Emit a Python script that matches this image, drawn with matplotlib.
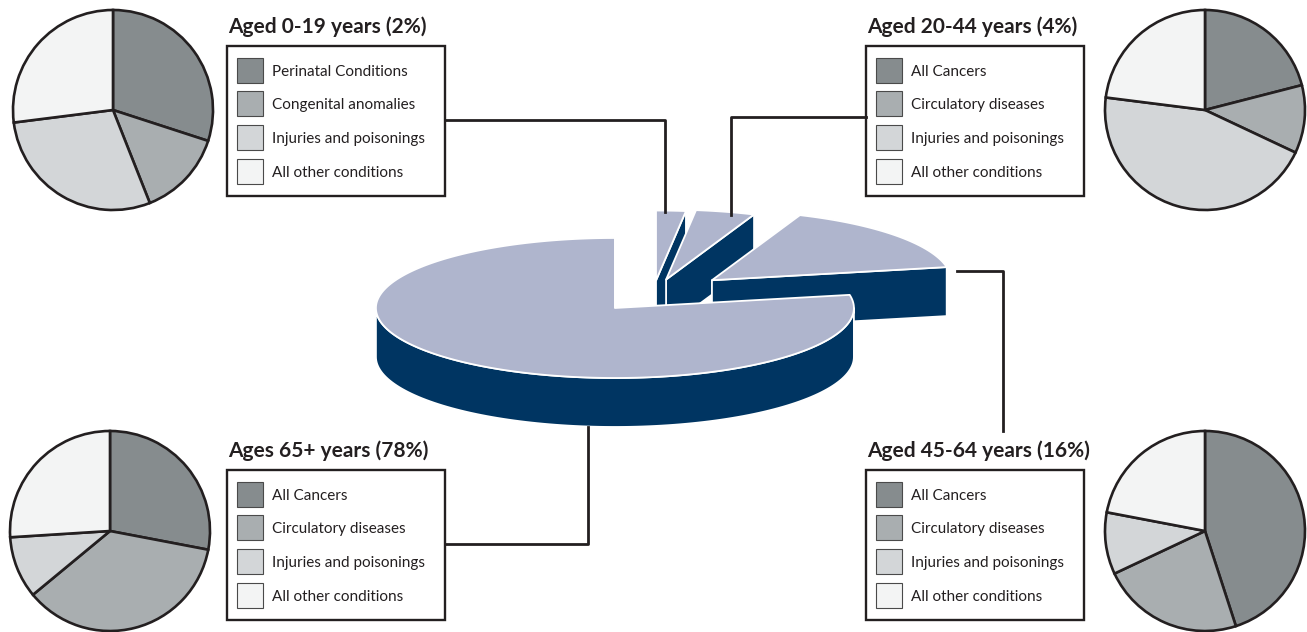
import numpy as np
import matplotlib.pyplot as plt
from matplotlib.patches import Polygon, Rectangle

W, H = 1307, 632

# share of deaths by age band, central 3D pie, counter-clockwise from 12 o'clock
band_names = ['Ages 65+ years', 'Aged 45-64 years', 'Aged 20-44 years', 'Aged 0-19 years']
band_share = [78, 16, 4, 2]

# causes of death within each age band
causes_young = ['Perinatal Conditions', 'Congenital anomalies',
                'Injuries and poisonings', 'All other conditions']
causes_adult = ['All Cancers', 'Circulatory diseases',
                'Injuries and poisonings', 'All other conditions']
share_0_19 = [30, 14, 29, 27]
share_20_44 = [21, 11, 45, 23]
share_45_64 = [45, 23, 10, 22]
share_65 = [28, 36, 10, 26]

cause_colors = ['#868c8e', '#a9aeb0', '#d3d6d8', '#f3f4f4']
TOP_C = '#afb5cd'
SIDE_C = '#003562'
INK = '#231f20'

plt.rcParams['font.family'] = ['Lato', 'DejaVu Sans']


def Y(v):
    # picture rows -> axis y (axis runs bottom-up)
    return H - v


def pie3d(ax, shares, cx, cy, rx, ry, depth, explode):
    fr = np.array(shares, dtype=float) / sum(shares)
    edges = 90 + 360 * np.concatenate([[0], np.cumsum(fr)])
    kw = dict(ec='white', lw=1.3, joinstyle='round')

    def pt(ox, oy, a, r=1.0, z=0.0):
        t = np.radians(a)
        return (ox + r * rx * np.cos(t), oy + r * ry * np.sin(t) + z)

    # back slices first so the front ones cover them
    for i in reversed(range(len(fr))):
        a1, a2 = edges[i], edges[i + 1]
        b = np.radians((a1 + a2) / 2)
        ox = cx + explode[i] * rx * np.cos(b)
        oy = cy + explode[i] * ry * np.sin(b)

        # radial cut faces facing the viewer
        if np.cos(np.radians(a1)) > 1e-6:
            q = [pt(ox, oy, a1, 0), pt(ox, oy, a1), pt(ox, oy, a1, 1, -depth), pt(ox, oy, a1, 0, -depth)]
            ax.add_patch(Polygon(q, fc=SIDE_C, **kw))
        if np.cos(np.radians(a2)) < -1e-6:
            q = [pt(ox, oy, a2, 0), pt(ox, oy, a2), pt(ox, oy, a2, 1, -depth), pt(ox, oy, a2, 0, -depth)]
            ax.add_patch(Polygon(q, fc=SIDE_C, **kw))

        # curved outer wall, front half only
        lo, hi = max(a1, 180), min(a2, 360)
        if hi > lo:
            arc = np.linspace(lo, hi, 120)
            top = [pt(ox, oy, a) for a in arc]
            bot = [pt(ox, oy, a, 1, -depth) for a in arc[::-1]]
            ax.add_patch(Polygon(top + bot, fc=SIDE_C, **kw))

        # top face
        arc = np.linspace(a1, a2, max(int(a2 - a1) * 2, 8))
        face = [(ox, oy)] + [pt(ox, oy, a) for a in arc]
        ax.add_patch(Polygon(face, fc=TOP_C, **kw))


def legend_box(ax, x, y, title, labels):
    ax.add_patch(Rectangle((x, Y(y + 150)), 218, 150, fill=False, ec=INK, lw=1.7))
    ax.text(x + 1, Y(y - 19), title, fontsize=15, fontweight='bold',
            color=INK, va='center', ha='left')
    for j, (lab, col) in enumerate(zip(labels, cause_colors)):
        yc = y + 24 + j * 33.7
        ax.add_patch(Rectangle((x + 10, Y(yc + 12.5)), 26, 25, fc=col, ec='#4a4a4a', lw=0.8))
        ax.text(x + 45, Y(yc + 1.5), lab, fontsize=11, color=INK, va='center', ha='left')


fig = plt.figure(figsize=(W / 100, H / 100), dpi=100)
ax = fig.add_axes([0, 0, 1, 1])

# connector lines
lw_line = 2.0
ax.plot([446, 665, 665], [Y(120), Y(120), Y(212)], color=INK, lw=lw_line)
ax.plot([866, 731, 731], [Y(117), Y(117), Y(215)], color=INK, lw=lw_line)
ax.plot([957, 1003, 1003], [Y(271), Y(271), Y(431)], color=INK, lw=lw_line)
ax.plot([588, 588, 446], [Y(427), Y(544), Y(544)], color=INK, lw=lw_line)

pie3d(ax, band_share, 653, Y(294.5), 239, 70, 49, [0.25, 0.32, 0.22, 0.2])

panels = [
    (share_0_19, causes_young, band_names[3], band_share[3], (113, 110), (227, 46)),
    (share_20_44, causes_adult, band_names[2], band_share[2], (1205, 110), (866, 46)),
    (share_65, causes_adult, band_names[0], band_share[0], (110, 531), (227, 470)),
    (share_45_64, causes_adult, band_names[1], band_share[1], (1205, 531), (866, 470)),
]
for vals, labels, name, pct, (pcx, pcy), (bx, by) in panels:
    ax.pie(vals, colors=cause_colors, startangle=90, counterclock=False,
           center=(pcx, Y(pcy)), radius=100,
           wedgeprops=dict(edgecolor=INK, linewidth=1.9))
    legend_box(ax, bx, by, f'{name} ({pct}%)', labels)

ax.set_xlim(0, W)
ax.set_ylim(0, H)
ax.set_aspect('equal')
ax.axis('off')

fig.savefig('out.png', dpi=100)
